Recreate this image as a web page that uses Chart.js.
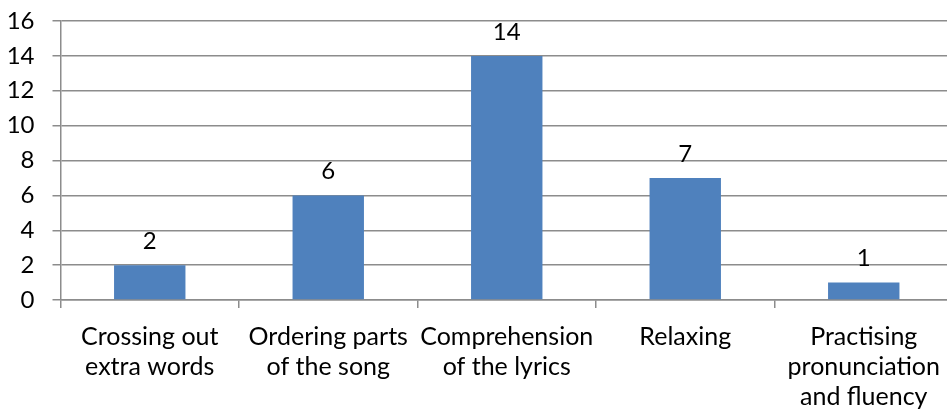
<!DOCTYPE html>
<html>
<head>
<meta charset="utf-8">
<script src="https://cdn.jsdelivr.net/npm/chart.js@4/dist/chart.umd.min.js"></script>
<style>
  html, body { margin: 0; padding: 0; background: #fff; overflow: hidden; }
  #wrap { width: 947px; height: 410px; overflow: hidden; }
</style>
</head>
<body>
<!-- the plot runs a little past the right edge, so the canvas is wider than the frame -->
<div id="wrap"><canvas id="activityChart" width="954" height="410"></canvas></div>
<script>
// Activities and how many students picked each one
const categories = [
  ['Crossing out', 'extra words'],
  ['Ordering parts', 'of the song'],
  ['Comprehension', 'of the lyrics'],
  ['Relaxing'],
  ['Practising', 'pronunciation', 'and fluency']
];
const counts = [2, 6, 14, 7, 1];
const yTicks = [0, 2, 4, 6, 8, 10, 12, 14, 16];

const FONT = 'Lato, "Open Sans", sans-serif';
const GRID = '#8c8c8c';

// Writes each bar's value just above it
const valueLabels = {
  id: 'valueLabels',
  afterDatasetsDraw(chart) {
    const ctx = chart.ctx;
    const meta = chart.getDatasetMeta(0);
    ctx.save();
    ctx.font = '24px ' + FONT;
    ctx.fillStyle = '#000';
    ctx.textAlign = 'center';
    ctx.textBaseline = 'middle';
    meta.data.forEach((bar, i) => {
      ctx.fillText(String(counts[i]), bar.x, bar.y - 24);
    });
    ctx.restore();
  }
};

new Chart(document.getElementById('activityChart').getContext('2d'), {
  type: 'bar',
  data: {
    labels: categories,
    datasets: [{
      data: counts,
      backgroundColor: '#4f81bd',
      borderWidth: 0,
      categoryPercentage: 0.4,
      barPercentage: 1
    }]
  },
  options: {
    responsive: false,
    animation: false,
    layout: { autoPadding: false, padding: { top: 21, right: 1, left: 0, bottom: 0 } },
    plugins: {
      legend: { display: false },
      tooltip: { enabled: false }
    },
    scales: {
      x: {
        offset: true,
        grid: {
          offset: true,
          drawOnChartArea: false,
          tickLength: 8,
          color: GRID,
          lineWidth: 1.5
        },
        border: { color: GRID, width: 1.5 },
        ticks: {
          color: '#000',
          font: { family: FONT, size: 25, lineHeight: 1.2 },
          padding: 14,
          maxRotation: 0,
          autoSkip: false
        },
        afterFit(scale) {
          scale.height = 110;
          scale.paddingLeft = 0;
          scale.paddingRight = 0;
        }
      },
      y: {
        min: 0,
        max: 16,
        afterBuildTicks(scale) { scale.ticks = yTicks.map(v => ({ value: v })); },
        grid: {
          color: GRID,
          lineWidth: 1.5,
          tickLength: 8
        },
        border: { color: GRID, width: 1.5 },
        ticks: {
          color: '#000',
          font: { family: FONT, size: 24 },
          padding: 18
        },
        afterFit(scale) {
          scale.width = 60.5;
          scale.paddingTop = 0;
          scale.paddingBottom = 0;
        }
      }
    }
  },
  plugins: [valueLabels]
});
</script>
</body>
</html>
